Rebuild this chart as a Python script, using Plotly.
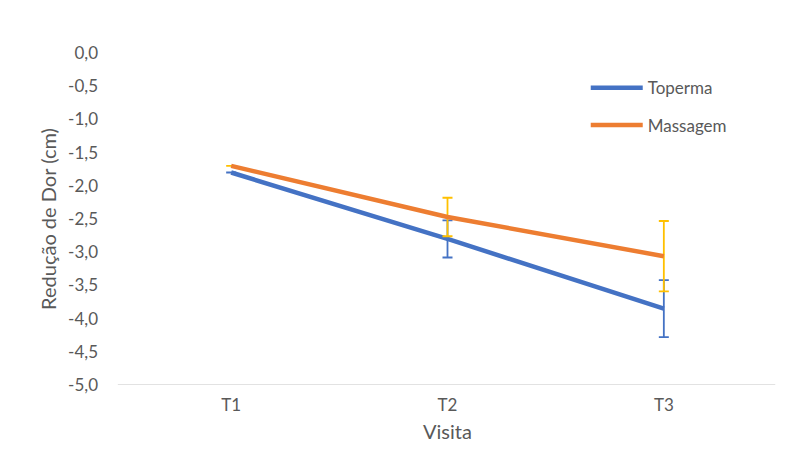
import plotly.graph_objects as go

categories = ["T1", "T2", "T3"]
toperma = [-1.80, -2.80, -3.85]
toperma_err = [0.0, 0.28, 0.43]
massagem = [-1.70, -2.47, -3.06]
massagem_err = [0.0, 0.29, 0.53]
y_ticks = [0, -0.5, -1.0, -1.5, -2.0, -2.5, -3.0, -3.5, -4.0, -4.5, -5.0]
y_labels = ["0,0", "-0,5", "-1,0", "-1,5", "-2,0", "-2,5", "-3,0", "-3,5", "-4,0", "-4,5", "-5,0"]

font_family = "Lato, Open Sans, sans-serif"
gray = "#595959"

fig = go.Figure()
fig.add_trace(go.Scatter(
    x=categories, y=toperma, name="Toperma", mode="lines",
    line=dict(color="#4472C4", width=4.5),
    error_y=dict(type="data", array=toperma_err, visible=True, color="#4472C4", thickness=1.8, width=5),
    legendgroup="a",
))
fig.add_trace(go.Scatter(
    x=categories, y=massagem, name="Massagem", mode="lines",
    line=dict(color="#ED7D31", width=4.5),
    error_y=dict(type="data", array=massagem_err, visible=True, color="#FFC000", thickness=1.8, width=5),
    legendgroup="b",
))

fig.update_layout(
    width=792, height=454,
    margin=dict(l=115, r=28, t=45, b=77),
    paper_bgcolor="white", plot_bgcolor="white",
    font=dict(family=font_family, size=17, color=gray),
    showlegend=True,
    legend=dict(x=0.713, y=0.948, xanchor="left", yanchor="top",
                font=dict(size=17, color=gray), tracegroupgap=12,
                itemwidth=52, bgcolor="rgba(0,0,0,0)"),
    xaxis=dict(range=[-0.5, 2.5], showgrid=False, zeroline=False,
               showline=False, ticks="", tickfont=dict(size=17, color=gray),
               ticklabelstandoff=8,
               title=dict(text="Visita", font=dict(size=20, color=gray), standoff=10)),
    yaxis=dict(range=[-5, 0], tickvals=y_ticks, ticktext=y_labels,
               showgrid=False, zeroline=False, showline=False, ticks="",
               tickfont=dict(size=17, color=gray), ticklabelstandoff=24,
               title=dict(text="Redução de Dor (cm)", font=dict(size=20, color=gray), standoff=6)),
    shapes=[
        dict(type="line", xref="paper", yref="y", x0=-0.008, x1=1.005, y0=-5, y1=-5,
             line=dict(color="#D9D9D9", width=1.3), layer="below"),
    ],
)

fig.write_html("out.html")
